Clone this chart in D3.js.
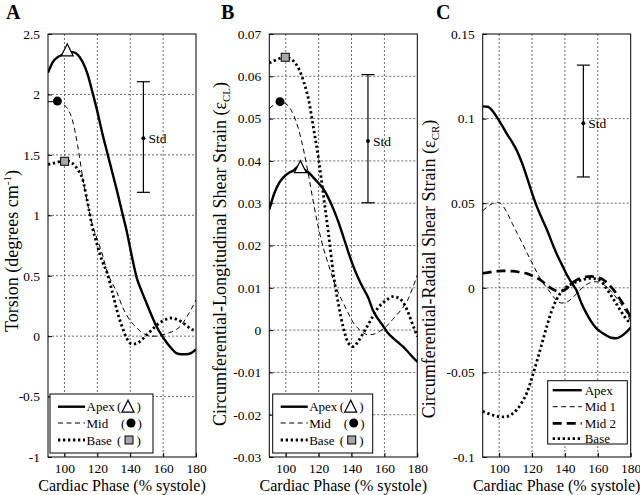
<!DOCTYPE html>
<html><head><meta charset="utf-8">
<script src="https://cdn.jsdelivr.net/npm/d3@7"></script>
<style>
body{margin:0;background:#fff}
svg{display:block}
text{font-family:"Liberation Serif","Times New Roman",serif;fill:#000}
</style>
</head><body>
<svg id="chart" width="640" height="495"></svg>
<script>
// ---------------- DATA ----------------
const phase = [90,93,96,99,102,105,108,111,114,117,120,123,126,129,132,135,138,141,144,147,150,153,156,159,162,165,168,171,174,177,180];
const xTicks = [100,120,140,160,180];

// Panel A: Torsion (degrees cm^-1)
const torsionTicks = [-1,-0.5,0,0.5,1,1.5,2,2.5];
const torsionTickLabels = ["-1","-0.5","0","0.5","1","1.5","2","2.5"];
const torsionApex = [2.18,2.27,2.31,2.33,2.35,2.35,2.33,2.27,2.17,2.02,1.86,1.68,1.52,1.36,1.20,1.03,0.86,0.66,0.48,0.37,0.27,0.17,0.08,0.01,-0.05,-0.10,-0.14,-0.15,-0.15,-0.14,-0.11];
const torsionMid  = [1.94,1.94,1.94,1.92,1.88,1.78,1.58,1.32,1.10,0.92,0.80,0.68,0.53,0.44,0.36,0.25,0.17,0.11,0.07,0.03,0.01,0.0,0.0,0.01,0.02,0.035,0.055,0.09,0.15,0.22,0.30];
const torsionBase = [1.42,1.43,1.44,1.45,1.45,1.43,1.38,1.30,1.11,0.90,0.75,0.62,0.52,0.37,0.21,0.08,-0.02,-0.065,-0.06,-0.03,0.01,0.05,0.09,0.12,0.14,0.15,0.14,0.12,0.09,0.06,0.04];
const torsionMarkers = {apex:[101.7,2.36], mid:[95.7,1.945], base:[100.1,1.447]};
const torsionStd = {x:148, center:1.637, low:1.19, high:2.105};

// Panel B: Circumferential-Longitudinal shear strain
const clTicks = [-0.03,-0.02,-0.01,0,0.01,0.02,0.03,0.04,0.05,0.06,0.07];
const clTickLabels = ["-0.03","-0.02","-0.01","0","0.01","0.02","0.03","0.04","0.05","0.06","0.07"];
const clApex = [0.0285,0.0323,0.0348,0.0363,0.0372,0.0378,0.0388,0.0380,0.0372,0.0360,0.0347,0.0333,0.0312,0.0286,0.0256,0.0221,0.0185,0.0152,0.0124,0.0100,0.0078,0.0047,0.0027,0.0011,-0.0006,-0.0018,-0.0028,-0.0038,-0.0050,-0.0063,-0.0075];
const clMid  = [0.0524,0.0533,0.0540,0.0537,0.0528,0.0506,0.0472,0.0423,0.0363,0.0298,0.0240,0.0192,0.0155,0.0118,0.0088,0.0064,0.0040,0.0018,0.0004,-0.0006,-0.0011,-0.0010,-0.0005,0.0002,0.0012,0.0025,0.0038,0.0052,0.0070,0.0098,0.0130];
const clBase = [0.0631,0.0637,0.0642,0.0645,0.0643,0.0635,0.0617,0.0586,0.0543,0.0475,0.0404,0.0316,0.0228,0.0132,0.0062,0.0006,-0.0030,-0.0039,-0.0027,-0.0008,0.0012,0.0033,0.0052,0.0064,0.0073,0.0079,0.0077,0.0068,0.0046,0.0015,-0.0015];
const clMarkers = {apex:[108.9,0.0384], mid:[96.5,0.054], base:[99.7,0.0645]};
const clStd = {x:150, center:0.0447, low:0.0301, high:0.0604};

// Panel C: Circumferential-Radial shear strain
const crTicks = [-0.1,-0.05,0,0.05,0.1,0.15];
const crTickLabels = ["-0.1","-0.05","0","0.05","0.1","0.15"];
const crApex = [0.1072,0.1070,0.1045,0.1003,0.0955,0.0905,0.0860,0.0806,0.0735,0.0650,0.0560,0.0478,0.0410,0.0345,0.0270,0.0200,0.0140,0.0080,0.0030,-0.0015,-0.0090,-0.0150,-0.0200,-0.0238,-0.0262,-0.0280,-0.0295,-0.0298,-0.0288,-0.0265,-0.0235];
const crMid1 = [0.0455,0.0480,0.0498,0.0505,0.0488,0.0440,0.0380,0.0322,0.0265,0.0205,0.0148,0.0090,0.0040,0.0000,-0.0040,-0.0075,-0.0090,-0.0085,-0.0065,-0.0035,-0.0005,0.0018,0.0032,0.0036,0.0028,0.0008,-0.0020,-0.0055,-0.0095,-0.0140,-0.0195];
const crMid2 = [0.0086,0.0090,0.0095,0.0098,0.0100,0.0100,0.0098,0.0095,0.0090,0.0084,0.0072,0.0058,0.0040,0.0015,-0.0005,-0.0018,-0.0020,-0.0005,0.0025,0.0045,0.0057,0.0065,0.0067,0.0063,0.0055,0.0035,0.0005,-0.0030,-0.0075,-0.0120,-0.0175];
const crBase = [-0.0730,-0.0742,-0.0752,-0.0760,-0.0763,-0.0760,-0.0745,-0.0718,-0.0675,-0.0618,-0.0530,-0.0432,-0.0330,-0.0228,-0.0135,-0.0068,-0.0022,0.0005,0.0022,0.0035,0.0045,0.0053,0.0056,0.0052,0.0040,0.0000,-0.0045,-0.0090,-0.0138,-0.0180,-0.0215];
const crStd = {x:151.2, center:0.0972, low:0.0655, high:0.1316};

const xTitle = "Cardiac Phase (% systole)";

// ---------------- STYLES ----------------
const styles = {
  apex: {w:2.4, dash:null},
  mid:  {w:1.0, dash:"5,3.5"},
  mid2: {w:2.7, dash:"9,5"},
  base: {w:2.8, dash:"2.3,2.7"}
};

const panels = [
  {label:"A", left:48, right:196, yDomain:[-1,2.5], ticks:torsionTicks, tickLabels:torsionTickLabels,
   series:[["base",torsionBase],["mid",torsionMid],["apex",torsionApex]], markers:torsionMarkers, std:torsionStd,
   ylab:{x:18, y:251, parts:[["Torsion (degrees cm",""],["-1","sup"],[")",""]]},
   legend:{x:50,y:394,w:103,h:59,type:"ABm"}, labelX:6},
  {label:"B", left:269.3, right:417.3, yDomain:[-0.03,0.07], ticks:clTicks, tickLabels:clTickLabels,
   series:[["base",clBase],["mid",clMid],["apex",clApex]], markers:clMarkers, std:clStd,
   ylab:{x:226, y:254, parts:[["Circumferential-Longitudinal Shear Strain (\u03b5",""],["CL","sub"],[")",""]]},
   legend:{x:272.7,y:394,w:100,h:59,type:"ABm"}, labelX:221},
  {label:"C", left:482.7, right:630.7, yDomain:[-0.1,0.15], ticks:crTicks, tickLabels:crTickLabels,
   series:[["base",crBase],["mid2",crMid2],["mid",crMid1],["apex",crApex]], markers:null, std:crStd,
   ylab:{x:435, y:269, parts:[["Circumferential-Radial Shear Strain (\u03b5",""],["CR","sub"],[")",""]]},
   legend:{x:547.7,y:380.7,w:79.6,h:63.3,type:"C"}, labelX:436}
];

const plotTop = 34, plotBottom = 457;
const svg = d3.select("#chart");
const serif = '"Liberation Serif","Times New Roman",serif';

function triPath(cx, cy){ return `M${cx},${cy-7}L${cx-6},${cy+5}L${cx+6},${cy+5}Z`; }

panels.forEach((p, pi) => {
  const x = d3.scaleLinear().domain([90,180]).range([p.left, p.right]);
  const y = d3.scaleLinear().domain(p.yDomain).range([plotBottom, plotTop]);
  const g = svg.append("g");
  const clipId = "clip"+pi;
  svg.append("clipPath").attr("id", clipId).append("rect")
    .attr("x", p.left).attr("y", plotTop).attr("width", p.right-p.left).attr("height", plotBottom-plotTop);

  // grid
  g.selectAll(".gx").data(xTicks.filter(t=>t<180)).enter().append("line")
    .attr("x1", d=>x(d)).attr("x2", d=>x(d)).attr("y1", plotTop).attr("y2", plotBottom)
    .attr("stroke","#444").attr("stroke-width",0.8).attr("stroke-dasharray","2,2");
  g.selectAll(".gy").data(p.ticks.filter(t=>t>p.yDomain[0] && t<p.yDomain[1])).enter().append("line")
    .attr("y1", d=>y(d)).attr("y2", d=>y(d)).attr("x1", p.left).attr("x2", p.right)
    .attr("stroke","#444").attr("stroke-width",0.8).attr("stroke-dasharray","2,2");

  // axes via d3
  const xAxis = d3.axisBottom(x).tickValues(xTicks).tickSizeInner(-4).tickSizeOuter(0).tickPadding(6);
  const ax = g.append("g").attr("transform",`translate(0,${plotBottom})`).call(xAxis);
  ax.select(".domain").remove();
  ax.selectAll("text").attr("font-size",13.5).style("font-family",serif);
  const yAxis = d3.axisLeft(y).tickValues(p.ticks).tickFormat((d,i)=>p.tickLabels[i]).tickSizeInner(-4).tickSizeOuter(0).tickPadding(8);
  const ay = g.append("g").attr("transform",`translate(${p.left},0)`).call(yAxis);
  ay.select(".domain").remove();
  ay.selectAll("text").attr("font-size",13.5).style("font-family",serif);

  // lines
  const lg = g.append("g").attr("clip-path",`url(#${clipId})`);
  p.series.forEach(([kind, vals]) => {
    const line = d3.line().x((d,i)=>x(phase[i])).y(d=>y(d)).curve(d3.curveMonotoneX);
    const s = styles[kind];
    lg.append("path").attr("d", line(vals)).attr("fill","none").attr("stroke","#000")
      .attr("stroke-width", s.w).attr("stroke-dasharray", s.dash).attr("stroke-linejoin","round");
  });

  // markers
  if (p.markers){
    const m = p.markers;
    g.append("path").attr("d", triPath(x(m.apex[0]), y(m.apex[1]))).attr("fill","#fff").attr("stroke","#000").attr("stroke-width",1.2);
    g.append("circle").attr("cx", x(m.mid[0])).attr("cy", y(m.mid[1])).attr("r",4.5).attr("fill","#000");
    g.append("rect").attr("x", x(m.base[0])-4).attr("y", y(m.base[1])-4).attr("width",8).attr("height",8)
      .attr("fill","#a8a8a8").attr("stroke","#000").attr("stroke-width",1);
  }

  // std bar
  const sd = p.std, sx = x(sd.x);
  g.append("line").attr("x1",sx).attr("x2",sx).attr("y1",y(sd.low)).attr("y2",y(sd.high)).attr("stroke","#000").attr("stroke-width",1.2);
  [sd.low, sd.high].forEach(v => g.append("line").attr("x1",sx-6.5).attr("x2",sx+6.5).attr("y1",y(v)).attr("y2",y(v)).attr("stroke","#000").attr("stroke-width",1.2));
  g.append("circle").attr("cx",sx).attr("cy",y(sd.center)).attr("r",2).attr("fill","#000");
  g.append("text").attr("x",sx+5).attr("y",y(sd.center)+4.5).attr("font-size",13.5).text("Std");

  // frame
  g.append("rect").attr("x",p.left).attr("y",plotTop).attr("width",p.right-p.left).attr("height",plotBottom-plotTop)
    .attr("fill","none").attr("stroke","#000").attr("stroke-width",1);

  // legend
  const L = p.legend;
  const leg = g.append("g");
  leg.append("rect").attr("x",L.x).attr("y",L.y).attr("width",L.w).attr("height",L.h)
    .attr("fill","#fff").attr("stroke","#000").attr("stroke-width",1);
  const fs = 13;
  if (L.type === "ABm"){
    const rows = [["apex","Apex",12.7],["mid","Mid",29],["base","Base",46]];
    rows.forEach(([k,name,dy])=>{
      const s = styles[k], yy = L.y+dy;
      leg.append("line").attr("x1",L.x+8).attr("x2",L.x+35).attr("y1",yy).attr("y2",yy)
        .attr("stroke","#000").attr("stroke-width",s.w).attr("stroke-dasharray",s.dash);
      leg.append("text").attr("x",L.x+36.5).attr("y",yy+4.5).attr("font-size",fs).text(name);
    });
    const ya = L.y+12.7, ym = L.y+29, yb = L.y+46;
    leg.append("text").attr("x",L.x+67).attr("y",ya+4.5).attr("font-size",fs).text("(");
    leg.append("path").attr("d",triPath(L.x+78, ya+0.5)).attr("fill","#fff").attr("stroke","#000").attr("stroke-width",1.2);
    leg.append("text").attr("x",L.x+86.5).attr("y",ya+4.5).attr("font-size",fs).text(")");
    leg.append("text").attr("x",L.x+71).attr("y",ym+4.5).attr("font-size",fs).text("(");
    leg.append("circle").attr("cx",L.x+81).attr("cy",ym).attr("r",4.5).attr("fill","#000");
    leg.append("text").attr("x",L.x+87.5).attr("y",ym+4.5).attr("font-size",fs).text(")");
    leg.append("text").attr("x",L.x+67).attr("y",yb+4.5).attr("font-size",fs).text("(");
    leg.append("rect").attr("x",L.x+75).attr("y",yb-4).attr("width",8).attr("height",8).attr("fill","#a8a8a8").attr("stroke","#000").attr("stroke-width",1);
    leg.append("text").attr("x",L.x+86.5).attr("y",yb+4.5).attr("font-size",fs).text(")");
  } else {
    const rows = [["apex","Apex",9.5],["mid","Mid 1",26],["mid2","Mid 2",42.6],["base","Base",58]];
    rows.forEach(([k,name,dy])=>{
      const s = styles[k], yy = L.y+dy;
      leg.append("line").attr("x1",L.x+5).attr("x2",L.x+34).attr("y1",yy).attr("y2",yy)
        .attr("stroke","#000").attr("stroke-width",s.w).attr("stroke-dasharray",s.dash);
      leg.append("text").attr("x",L.x+37).attr("y",yy+4.5).attr("font-size",fs).text(name);
    });
  }

  // x title
  g.append("text").attr("x",(p.left+p.right)/2).attr("y",491).attr("text-anchor","middle").attr("font-size",16).text(xTitle);

  // y title
  const yt = g.append("text").attr("transform",`translate(${p.ylab.x},${p.ylab.y}) rotate(-90)`)
    .attr("text-anchor","middle").attr("font-size",18);
  p.ylab.parts.forEach(([t,kind])=>{
    const ts = yt.append("tspan").text(t);
    if (kind==="sup") ts.attr("font-size",11).attr("dy",-7);
    if (kind==="sub") ts.attr("font-size",11).attr("dy",4);
    if (kind==="" && t===")") ts.attr("dy", p.ylab.parts[1][1]==="sup" ? 7 : -4);
  });

  // panel label
  g.append("text").attr("x",p.labelX).attr("y",19).attr("font-size",20).attr("font-weight","bold").text(p.label);
});
</script>
</body></html>
